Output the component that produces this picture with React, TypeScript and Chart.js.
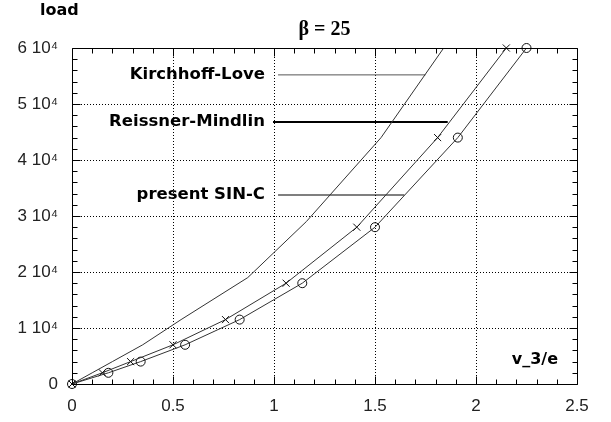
import React, { useEffect, useRef } from 'react';
import { Chart, registerables } from 'chart.js';

Chart.register(...registerables);

// ---- data (load in N, displacement v_3/e) ----
const markerLoads = [0, 2000, 4000, 7000, 11500, 18000, 28000, 44000, 60000];
const reissnerDisp = [0, 0.15, 0.29, 0.5, 0.76, 1.06, 1.41, 1.81, 2.15];
const sincDisp = [0, 0.18, 0.34, 0.56, 0.83, 1.14, 1.5, 1.91, 2.25];
const kirchhoffLoads = [0, 2000, 4000, 7000, 11500, 19000, 29000, 44000, 60000];
const kirchhoffDisp = [0, 0.1, 0.2, 0.35, 0.54, 0.87, 1.16, 1.53, 1.84];

// pointer lines of the in-plot labels
const labelTexts = ['Kirchhoff-Love', 'Reissner-Mindlin', 'present SIN-C'];
const labelLoads = [55200, 46800, 33750];
const labelLineStart = [1.02, 0.995, 1.02];
const labelLineEnd = [1.75, 1.86, 1.645];
const labelTextRight = 0.955;

const xTickLabels = ['0', '0.5', '1', '1.5', '2', '2.5'];
const yTickLabels = ['0', '1 10\u2074', '2 10\u2074', '3 10\u2074', '4 10\u2074', '5 10\u2074', '6 10\u2074'];
const titleText = '\u03B2 = 25';
const yAxisTitle = 'load';
const xAxisTitle = 'v_3/e';

const toPts = (xs: number[], ys: number[]) => xs.map((x, i) => ({ x, y: ys[i] }));

const decorPlugin = {
  id: 'decor',
  beforeDatasetsDraw(chart: any) {
    const ctx = chart.ctx;
    const { left, right, top, bottom } = chart.chartArea;
    const xs = chart.scales.x;
    const ys = chart.scales.y;
    ctx.save();
    ctx.strokeStyle = '#000';
    ctx.lineWidth = 1;
    ctx.setLineDash([1, 2]);
    ctx.beginPath();
    for (let i = 1; i < 5; i++) {
      const px = Math.round(xs.getPixelForValue(i * 0.5)) + 0.5;
      ctx.moveTo(px, top);
      ctx.lineTo(px, bottom);
    }
    for (let i = 1; i < 6; i++) {
      const py = Math.round(ys.getPixelForValue(i * 10000)) + 0.5;
      ctx.moveTo(left, py);
      ctx.lineTo(right, py);
    }
    ctx.stroke();
    ctx.restore();
  },
  afterDatasetsDraw(chart: any) {
    const ctx = chart.ctx;
    const { left, right, top, bottom } = chart.chartArea;
    const xs = chart.scales.x;
    const ys = chart.scales.y;
    ctx.save();
    ctx.setLineDash([]);
    ctx.strokeStyle = '#000';
    ctx.lineWidth = 1;
    const l = Math.round(left) + 0.5;
    const r = Math.round(right) + 0.5;
    const t = Math.round(top) + 0.5;
    const b = Math.round(bottom) + 0.5;
    ctx.beginPath();
    ctx.moveTo(l, t);
    ctx.lineTo(r, t);
    ctx.lineTo(r, b);
    ctx.lineTo(l, b);
    ctx.closePath();
    // x ticks every 0.1
    for (let i = 0; i <= 25; i++) {
      const px = Math.round(xs.getPixelForValue(i / 10)) + 0.5;
      const len = i % 5 === 0 ? 8 : 5;
      ctx.moveTo(px, b);
      ctx.lineTo(px, b - len);
      ctx.moveTo(px, t);
      ctx.lineTo(px, t + len);
    }
    // y ticks every 2000
    for (let i = 0; i <= 30; i++) {
      const py = Math.round(ys.getPixelForValue(i * 2000)) + 0.5;
      const len = i % 5 === 0 ? 8 : 5;
      ctx.moveTo(l, py);
      ctx.lineTo(l + len, py);
      ctx.moveTo(r, py);
      ctx.lineTo(r - len, py);
    }
    ctx.stroke();
    ctx.restore();
  },
  afterDraw(chart: any) {
    const ctx = chart.ctx;
    const { left, right, top, bottom } = chart.chartArea;
    const xs = chart.scales.x;
    const ys = chart.scales.y;
    ctx.save();
    ctx.fillStyle = '#000';
    ctx.textBaseline = 'middle';
    // title
    ctx.font = 'bold 20px "Liberation Serif", serif';
    ctx.textAlign = 'center';
    ctx.fillText(titleText, (left + right) / 2, top - 18);
    // y axis title
    ctx.font = 'bold 16px "DejaVu Sans", sans-serif';
    ctx.textAlign = 'left';
    ctx.fillText(yAxisTitle, left - 32, 11);
    // x axis title
    ctx.textAlign = 'right';
    ctx.fillText(xAxisTitle, right - 19, bottom - 24);
    // label texts
    ctx.font = 'bold 16.5px "DejaVu Sans", sans-serif';
    labelTexts.forEach((t, i) => {
      ctx.fillText(t, xs.getPixelForValue(labelTextRight), ys.getPixelForValue(labelLoads[i]));
    });
    ctx.restore();
  },
};

export default function App() {
  const ref = useRef<HTMLCanvasElement | null>(null);
  useEffect(() => {
    if (!ref.current) return;
    const pointerWidths = [1, 2, 1.2];
    const pointerColors = ['#555', '#000', '#000'];
    const pointerSets = labelTexts.map((t, i) => ({
      label: t + ' pointer',
      data: [
        { x: labelLineStart[i], y: labelLoads[i] },
        { x: labelLineEnd[i], y: labelLoads[i] },
      ],
      showLine: true,
      borderColor: pointerColors[i],
      borderWidth: pointerWidths[i],
      pointRadius: 0,
      clip: false as any,
    }));
    const chart = new Chart(ref.current, {
      type: 'scatter',
      data: {
        datasets: [
          {
            label: 'Kirchhoff-Love',
            data: toPts(kirchhoffDisp, kirchhoffLoads),
            showLine: true,
            borderColor: '#333',
            borderWidth: 1,
            pointRadius: 0,
            clip: 8 as any,
          },
          {
            label: 'Reissner-Mindlin',
            data: toPts(reissnerDisp, markerLoads),
            showLine: true,
            borderColor: '#333',
            borderWidth: 1,
            pointStyle: 'crossRot',
            pointRadius: 5,
            pointBorderColor: '#111',
            pointBorderWidth: 1,
            pointBackgroundColor: 'transparent',
            clip: 8 as any,
          },
          {
            label: 'present SIN-C',
            data: toPts(sincDisp, markerLoads),
            showLine: true,
            borderColor: '#333',
            borderWidth: 1,
            pointStyle: 'circle',
            pointRadius: 4.5,
            pointBorderColor: '#111',
            pointBorderWidth: 1,
            pointBackgroundColor: 'transparent',
            clip: 8 as any,
          },
          ...pointerSets,
        ],
      },
      options: {
        animation: false,
        responsive: false,
        maintainAspectRatio: false,
        devicePixelRatio: 1,
        layout: { padding: { top: 48, right: 34, left: 0, bottom: 0 } },
        plugins: {
          legend: { display: false },
          title: { display: false },
          tooltip: { enabled: false },
        },
        scales: {
          x: {
            type: 'linear',
            min: 0,
            max: 2.5,
            afterFit: (s: any) => {
              s.height = 38;
            },
            ticks: {
              stepSize: 0.5,
              padding: 12,
              color: '#222',
              font: { family: '"Liberation Sans", Arial, sans-serif', size: 17 },
              callback: (v: any) => xTickLabels[Math.round(Number(v) / 0.5)] ?? '',
            },
            grid: { display: false, drawTicks: false },
            border: { display: false },
          },
          y: {
            type: 'linear',
            min: 0,
            max: 60000,
            afterFit: (s: any) => {
              s.width = 72;
            },
            ticks: {
              stepSize: 10000,
              padding: 14,
              color: '#222',
              font: { family: '"Liberation Sans", Arial, sans-serif', size: 17 },
              callback: (v: any) => yTickLabels[Math.round(Number(v) / 10000)] ?? '',
            },
            grid: { display: false, drawTicks: false },
            border: { display: false },
          },
        },
      },
      plugins: [decorPlugin],
    });
    return () => chart.destroy();
  }, []);
  return (
    <div style={{ position: 'fixed', left: 0, top: 0, width: 611, height: 422, background: '#fff' }}>
      <canvas ref={ref} width={611} height={422} style={{ display: 'block', width: 611, height: 422 }} />
    </div>
  );
}
